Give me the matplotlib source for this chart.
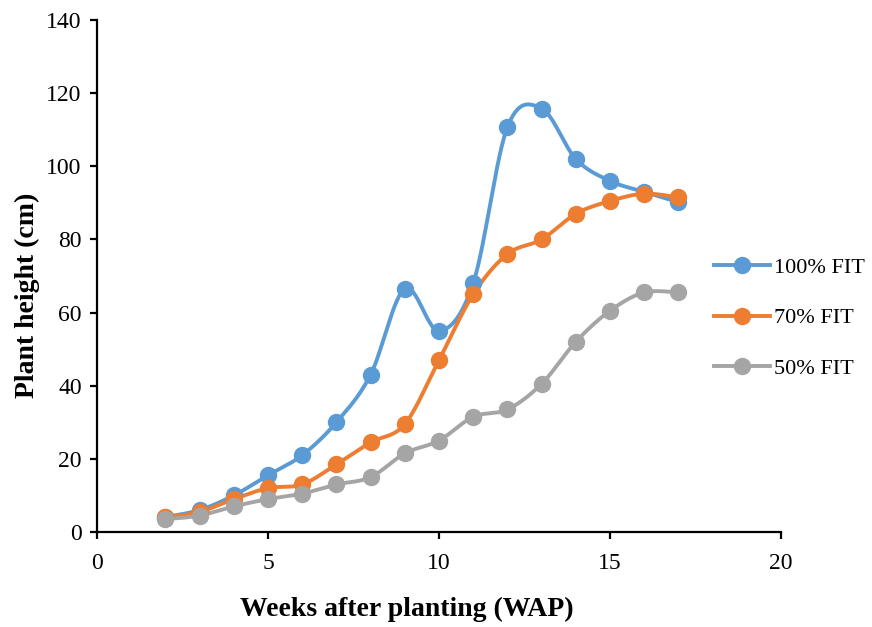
import numpy as np
import matplotlib
matplotlib.use("Agg")
import matplotlib.pyplot as plt
from matplotlib.lines import Line2D

plt.rcParams['font.family'] = ['Liberation Serif', 'DejaVu Serif']

weeks = [2, 3, 4, 5, 6, 7, 8, 9, 10, 11, 12, 13, 14, 15, 16, 17]
fit_100 = [4.1, 6.0, 10.0, 15.5, 21.0, 30.0, 43.0, 66.5, 55.0, 68.0, 110.7, 115.8, 102.0, 96.0, 93.0, 90.2]
fit_70 = [4.0, 5.5, 9.0, 12.0, 13.0, 18.5, 24.5, 29.5, 47.0, 65.0, 76.0, 80.0, 87.0, 90.5, 92.5, 91.5]
fit_50 = [3.5, 4.5, 7.0, 9.0, 10.5, 13.0, 15.0, 21.5, 25.0, 31.5, 33.5, 40.5, 52.0, 60.5, 65.5, 65.5]
series_labels = ["100% FIT", "70% FIT", "50% FIT"]
series_colors = ["#5B9BD5", "#ED7D31", "#A5A5A5"]


def smooth(x, y, n=30):
    """Catmull-Rom curve through the points (smoothed line)."""
    p = np.column_stack([x, y]).astype(float)
    ext = np.vstack([p[0], p, p[-1]])
    out = []
    t = np.linspace(0, 1, n, endpoint=False)[:, None]
    for i in range(1, len(ext) - 2):
        p0, p1, p2, p3 = ext[i - 1], ext[i], ext[i + 1], ext[i + 2]
        c1 = p1 + (p2 - p0) / 6.0
        c2 = p2 - (p3 - p1) / 6.0
        seg = ((1 - t) ** 3) * p1 + 3 * ((1 - t) ** 2) * t * c1 + 3 * (1 - t) * t ** 2 * c2 + t ** 3 * p2
        out.append(seg)
    out.append(p[-1][None, :])
    out = np.vstack(out)
    return out[:, 0], out[:, 1]


W, H = 872, 627
fig = plt.figure(figsize=(W / 100, H / 100), dpi=100)
ax = fig.add_axes([97 / W, 1 - 532 / H, (781 - 97) / W, (532 - 20) / H])

handles = []
for vals, lab, col in zip([fit_100, fit_70, fit_50], series_labels, series_colors):
    sx, sy = smooth(weeks, vals)
    ax.plot(sx, sy, color=col, lw=2.8, solid_capstyle='round', solid_joinstyle='round', zorder=2)
    ax.plot(weeks, vals, 'o', color=col, ms=11.5, zorder=3)
    handles.append(Line2D([0], [0], color=col, lw=2.8, marker='o', ms=11.5))

ax.set_xlim(0, 20)
ax.set_ylim(0, 140)
ax.set_xticks(range(0, 21, 5))
ax.set_yticks(range(0, 141, 20))
for s in ['top', 'right']:
    ax.spines[s].set_visible(False)
for s in ['left', 'bottom']:
    ax.spines[s].set_linewidth(1.6)
ax.tick_params(axis='both', direction='out', length=5, width=1.6, labelsize=17, pad=6)
ax.tick_params(axis='x', pad=10)

fig.text(407 / W, 1 - 609 / H, "Weeks after planting (WAP)", fontsize=20, fontweight='bold',
         ha='center', va='center')
fig.text(27 / W, 1 - 295 / H, "Plant height (cm)", fontsize=20, fontweight='bold',
         ha='center', va='center', rotation=90)

fig.legend(handles, series_labels, loc='center left', bbox_to_anchor=(714 / W, 1 - 318 / H),
           frameon=False, fontsize=16, handlelength=2.5, handletextpad=0.2,
           labelspacing=1.35, borderpad=0, borderaxespad=0)

fig.savefig("out.png", dpi=100)
